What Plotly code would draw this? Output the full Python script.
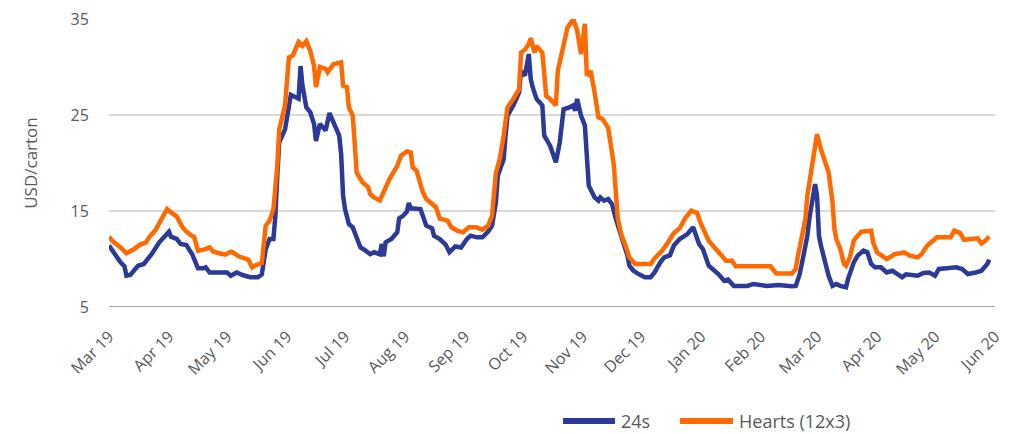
import plotly.graph_objects as go

# 24s carton prices (USD/carton)
dates_24s = [
    "2019-03-01", "2019-03-04", "2019-03-07", "2019-03-09", "2019-03-10", "2019-03-12",
    "2019-03-16", "2019-03-19", "2019-03-23", "2019-03-27", "2019-04-01", "2019-04-02",
    "2019-04-05", "2019-04-07", "2019-04-10", "2019-04-13", "2019-04-16", "2019-04-19",
    "2019-04-20", "2019-04-22", "2019-04-26", "2019-05-01", "2019-05-03", "2019-05-06",
    "2019-05-09", "2019-05-13", "2019-05-17", "2019-05-19", "2019-05-21", "2019-05-23",
    "2019-05-25", "2019-05-26", "2019-05-27", "2019-05-28", "2019-05-31", "2019-06-02",
    "2019-06-03", "2019-06-07", "2019-06-08", "2019-06-09", "2019-06-11", "2019-06-13",
    "2019-06-15", "2019-06-16", "2019-06-18", "2019-06-21", "2019-06-23", "2019-06-26",
    "2019-06-28", "2019-06-29", "2019-06-30", "2019-07-01", "2019-07-03", "2019-07-05",
    "2019-07-07", "2019-07-09", "2019-07-11", "2019-07-14", "2019-07-16", "2019-07-19",
    "2019-07-20", "2019-07-21", "2019-07-22", "2019-07-25", "2019-07-28", "2019-07-29",
    "2019-07-31", "2019-08-02", "2019-08-03", "2019-08-04", "2019-08-09", "2019-08-10",
    "2019-08-12", "2019-08-15", "2019-08-16", "2019-08-19", "2019-08-22", "2019-08-24",
    "2019-08-27", "2019-08-30", "2019-09-02", "2019-09-04", "2019-09-07", "2019-09-10",
    "2019-09-13", "2019-09-15", "2019-09-17", "2019-09-18", "2019-09-21", "2019-09-22",
    "2019-09-23", "2019-09-26", "2019-09-29", "2019-09-30", "2019-10-02", "2019-10-04",
    "2019-10-05", "2019-10-06", "2019-10-08", "2019-10-11", "2019-10-12", "2019-10-15",
    "2019-10-18", "2019-10-20", "2019-10-22", "2019-10-25", "2019-10-27", "2019-10-28",
    "2019-10-29", "2019-10-31", "2019-11-02", "2019-11-03", "2019-11-04", "2019-11-07",
    "2019-11-09", "2019-11-10", "2019-11-12", "2019-11-14", "2019-11-16", "2019-11-18",
    "2019-11-21", "2019-11-24", "2019-11-25", "2019-11-27", "2019-11-30", "2019-12-03",
    "2019-12-06", "2019-12-08", "2019-12-11", "2019-12-13", "2019-12-16", "2019-12-18",
    "2019-12-21", "2019-12-25", "2019-12-28", "2019-12-29", "2019-12-31", "2020-01-02",
    "2020-01-05", "2020-01-07", "2020-01-10", "2020-01-13", "2020-01-15", "2020-01-18",
    "2020-01-25", "2020-01-28", "2020-02-04", "2020-02-10", "2020-02-13", "2020-02-17",
    "2020-02-19", "2020-02-21", "2020-02-23", "2020-02-25", "2020-02-26", "2020-02-28",
    "2020-02-29", "2020-03-01", "2020-03-02", "2020-03-03", "2020-03-05", "2020-03-07",
    "2020-03-09", "2020-03-11", "2020-03-13", "2020-03-16", "2020-03-17", "2020-03-20",
    "2020-03-22", "2020-03-25", "2020-03-27", "2020-03-29", "2020-03-31", "2020-04-03",
    "2020-04-06", "2020-04-09", "2020-04-11", "2020-04-14", "2020-04-16", "2020-04-20",
    "2020-04-22", "2020-04-25", "2020-04-28", "2020-05-01", "2020-05-03", "2020-05-07",
    "2020-05-12", "2020-05-15", "2020-05-18", "2020-05-22", "2020-05-25", "2020-05-28",
    "2020-05-29",
]
values_24s = [
    11.4, 10.5, 9.65, 9.24, 8.26, 8.33,
    9.3, 9.48, 10.5, 11.74, 12.85, 12.33,
    12.1, 11.56, 11.46, 10.5, 9.03, 9.03,
    9.13, 8.6, 8.6, 8.6, 8.26, 8.6,
    8.33, 8.1, 8.1, 8.4, 11.0, 12.08,
    12.08, 14.5, 18.7, 22.15, 23.5, 26.0,
    27.1, 26.7, 30.1, 28.05, 25.8, 25.3,
    24.06, 22.3, 24.06, 23.4, 25.2, 23.8,
    22.85, 20.94, 16.6, 15.2, 13.65, 13.3,
    12.08, 11.2, 10.97, 10.5, 10.7, 10.5,
    11.56, 10.28, 11.74, 12.08, 12.78, 14.24,
    14.5, 14.93, 15.83, 15.28, 15.2, 14.7,
    13.47, 13.2, 12.43, 12.08, 11.5, 10.7,
    11.3, 11.2, 12.08, 12.43, 12.26, 12.26,
    12.85, 13.47, 15.9, 18.7, 20.4, 22.85,
    24.93, 26.0, 27.36, 29.6, 29.1, 31.35,
    28.75, 27.9, 26.67, 26.0, 22.85, 21.8,
    20.07, 22.15, 25.6, 25.8, 26.0, 25.45,
    26.67, 24.93, 23.9, 20.76, 17.64, 16.42,
    16.07, 16.42, 16.07, 16.25, 15.73, 14.17,
    12.43, 10.35, 9.3, 8.8, 8.4, 8.1,
    8.1, 8.6, 9.65, 10.17, 10.4, 11.4,
    12.08, 12.6, 13.3, 12.78, 11.56, 11.04,
    9.3, 8.96, 8.44, 7.74, 7.85, 7.2,
    7.2, 7.4, 7.2, 7.3, 7.2, 7.15,
    7.2, 8.4, 10.35, 12.43, 14.17, 16.6,
    17.8, 16.6, 12.43, 11.4, 9.65, 8.26,
    7.2, 7.4, 7.2, 7.05, 7.9, 9.65,
    10.35, 10.87, 10.7, 9.48, 9.13, 9.13,
    8.6, 8.77, 8.5, 8.1, 8.4, 8.3,
    8.26, 8.54, 8.6, 8.26, 8.96, 9.03,
    9.13, 8.96, 8.44, 8.6, 8.77, 9.48,
    9.93,
]

# Hearts (12x3) carton prices (USD/carton)
dates_hearts = [
    "2019-03-01", "2019-03-03", "2019-03-07", "2019-03-10", "2019-03-14", "2019-03-17",
    "2019-03-20", "2019-03-22", "2019-03-25", "2019-03-27", "2019-03-30", "2019-03-31",
    "2019-04-02", "2019-04-05", "2019-04-08", "2019-04-10", "2019-04-13", "2019-04-14",
    "2019-04-16", "2019-04-19", "2019-04-22", "2019-04-24", "2019-04-27", "2019-04-30",
    "2019-05-03", "2019-05-04", "2019-05-07", "2019-05-09", "2019-05-12", "2019-05-14",
    "2019-05-16", "2019-05-19", "2019-05-21", "2019-05-23", "2019-05-25", "2019-05-27",
    "2019-05-28", "2019-05-31", "2019-06-01", "2019-06-02", "2019-06-04", "2019-06-06",
    "2019-06-07", "2019-06-09", "2019-06-11", "2019-06-13", "2019-06-15", "2019-06-16",
    "2019-06-18", "2019-06-21", "2019-06-22", "2019-06-25", "2019-06-29", "2019-06-30",
    "2019-07-02", "2019-07-03", "2019-07-05", "2019-07-06", "2019-07-07", "2019-07-10",
    "2019-07-13", "2019-07-14", "2019-07-16", "2019-07-19", "2019-07-21", "2019-07-24",
    "2019-07-28", "2019-07-30", "2019-08-02", "2019-08-04", "2019-08-05", "2019-08-07",
    "2019-08-09", "2019-08-10", "2019-08-12", "2019-08-14", "2019-08-17", "2019-08-19",
    "2019-08-23", "2019-08-25", "2019-08-28", "2019-08-31", "2019-09-03", "2019-09-07",
    "2019-09-10", "2019-09-13", "2019-09-15", "2019-09-17", "2019-09-19", "2019-09-21",
    "2019-09-23", "2019-09-26", "2019-09-29", "2019-09-30", "2019-10-02", "2019-10-04",
    "2019-10-05", "2019-10-07", "2019-10-08", "2019-10-11", "2019-10-13", "2019-10-15",
    "2019-10-18", "2019-10-19", "2019-10-20", "2019-10-22", "2019-10-24", "2019-10-27",
    "2019-10-29", "2019-10-31", "2019-11-02", "2019-11-03", "2019-11-05", "2019-11-07",
    "2019-11-09", "2019-11-11", "2019-11-14", "2019-11-16", "2019-11-17", "2019-11-19",
    "2019-11-21", "2019-11-23", "2019-11-25", "2019-11-28", "2019-12-06", "2019-12-08",
    "2019-12-12", "2019-12-15", "2019-12-18", "2019-12-21", "2019-12-24", "2019-12-27",
    "2019-12-30", "2020-01-01", "2020-01-05", "2020-01-08", "2020-01-12", "2020-01-14",
    "2020-01-17", "2020-01-19", "2020-01-25", "2020-02-01", "2020-02-06", "2020-02-07",
    "2020-02-09", "2020-02-17", "2020-02-19", "2020-02-20", "2020-02-22", "2020-02-24",
    "2020-02-25", "2020-02-27", "2020-02-29", "2020-03-01", "2020-03-03", "2020-03-05",
    "2020-03-07", "2020-03-09", "2020-03-10", "2020-03-11", "2020-03-13", "2020-03-15",
    "2020-03-16", "2020-03-18", "2020-03-20", "2020-03-22", "2020-03-24", "2020-03-29",
    "2020-03-30", "2020-04-01", "2020-04-03", "2020-04-06", "2020-04-09", "2020-04-10",
    "2020-04-13", "2020-04-15", "2020-04-18", "2020-04-22", "2020-04-24", "2020-04-27",
    "2020-04-29", "2020-05-02", "2020-05-09", "2020-05-11", "2020-05-14", "2020-05-16",
    "2020-05-23", "2020-05-25", "2020-05-27", "2020-05-29",
]
values_hearts = [
    12.33, 11.84, 11.2, 10.6, 11.04, 11.5,
    11.7, 12.33, 13.0, 13.8, 14.8, 15.2,
    14.86, 14.44, 13.3, 12.85, 12.4, 12.3,
    10.87, 10.97, 11.2, 10.76, 10.6, 10.45,
    10.76, 10.7, 10.28, 10.17, 9.93, 9.13,
    9.37, 9.58, 13.47, 14.0, 15.2, 19.7,
    23.5, 26.0, 28.75, 31.0, 31.18, 32.05,
    32.6, 32.2, 32.7, 31.7, 30.1, 27.9,
    30.0, 29.8, 29.45, 30.3, 30.5, 28.05,
    27.9, 25.8, 24.93, 22.15, 19.0, 18.0,
    17.47, 16.77, 16.42, 16.1, 17.1, 18.33,
    19.7, 20.76, 21.2, 21.1, 19.55, 19.2,
    17.8, 17.1, 16.25, 15.9, 15.4, 14.2,
    14.0, 13.3, 12.95, 12.78, 13.3, 13.3,
    13.05, 13.47, 14.5, 19.0, 20.4, 22.85,
    25.8, 26.67, 27.7, 31.5, 31.8, 32.4,
    33.0, 31.5, 32.2, 31.5, 27.0, 26.67,
    26.0, 29.6, 30.5, 32.4, 34.1, 35.0,
    33.8, 31.35, 34.5, 29.1, 29.6, 27.36,
    24.76, 24.6, 23.7, 21.1, 19.7, 14.2,
    12.43, 11.4, 10.17, 9.48, 9.48, 10.07,
    10.87, 11.74, 12.7, 13.2, 14.3, 15.03,
    14.8, 13.65, 11.9, 11.2, 10.35, 9.83,
    9.83, 9.24, 9.24, 9.2, 9.24, 8.96,
    8.5, 8.5, 8.96, 10.17, 12.08, 14.17,
    16.6, 19.0, 21.1, 23.0, 21.45, 20.07,
    19.0, 15.9, 13.1, 12.08, 11.04, 9.48,
    9.3, 10.17, 11.9, 12.43, 12.85, 12.95,
    11.74, 10.7, 10.42, 10.0, 10.35, 10.5,
    10.6, 10.7, 10.35, 10.17, 10.5, 11.4,
    11.74, 12.26, 12.26, 12.95, 12.7, 12.0,
    12.15, 11.63, 11.9, 12.35,
]

# Monthly ticks along the date axis
tick_dates = [
    "2019-03-01", "2019-04-01", "2019-05-01", "2019-06-01", "2019-07-01", "2019-08-01",
    "2019-09-01", "2019-10-01", "2019-11-01", "2019-12-01", "2020-01-01", "2020-02-01",
    "2020-03-01", "2020-04-01", "2020-05-01", "2020-06-01",
]
tick_labels = [
    "Mar 19", "Apr 19", "May 19", "Jun 19", "Jul 19", "Aug 19", "Sep 19", "Oct 19",
    "Nov 19", "Dec 19", "Jan 20", "Feb 20", "Mar 20", "Apr 20", "May 20", "Jun 20",
]

series_names = ["24s", "Hearts (12x3)"]

BLUE = "#2A3A96"
ORANGE = "#FF6A00"
TEXT = "#595959"
FONT = "Open Sans"

fig = go.Figure()
fig.add_trace(go.Scatter(
    x=dates_24s, y=values_24s, name=series_names[0], mode="lines",
    line=dict(color=BLUE, width=4.5), showlegend=False,
))
fig.add_trace(go.Scatter(
    x=dates_hearts, y=values_hearts, name=series_names[1], mode="lines",
    line=dict(color=ORANGE, width=4.5), showlegend=False,
))

fig.update_layout(
    width=1015, height=434,
    margin=dict(l=109, r=20, t=19, b=127, autoexpand=False),
    paper_bgcolor="white", plot_bgcolor="white",
    font=dict(family=FONT, color=TEXT, size=15),
)
fig.update_xaxes(
    type="date", range=["2019-03-01", "2020-06-01"], automargin=False,
    tickvals=tick_dates, ticktext=tick_labels, tickangle=-45,
    tickfont=dict(size=16, color=TEXT), showgrid=False, zeroline=False,
    showline=False, ticks="outside", ticklen=13, tickcolor="rgba(0,0,0,0)",
)
fig.update_yaxes(
    range=[5, 35], tickvals=[5, 15, 25, 35], showgrid=True, automargin=False,
    gridcolor="#D9D9D9", gridwidth=1.5, zeroline=False,
    tickfont=dict(size=16, color=TEXT),
    ticks="outside", ticklen=16, tickcolor="rgba(0,0,0,0)",
    title=dict(text="USD/carton", font=dict(size=17, color=TEXT), standoff=28),
)
# Baseline along the bottom of the plotting area
fig.add_shape(
    type="line", xref="paper", yref="y", x0=0, x1=1, y0=5, y1=5,
    line=dict(color="#8C8C8C", width=1.5), layer="below",
)

# Legend drawn below the axis: a thick line sample followed by the series name
legend_y = -0.396
legend_items = [
    (series_names[0], BLUE, 0.5124, 0.5711),
    (series_names[1], ORANGE, 0.6445, 0.7043),
]
for label, color, x0, x1 in legend_items:
    fig.add_shape(
        type="line", xref="paper", yref="paper", x0=x0, x1=x1,
        y0=legend_y, y1=legend_y, line=dict(color=color, width=6),
    )
    fig.add_annotation(
        text=label, xref="paper", yref="paper", x=x1 + 0.004, y=legend_y,
        xanchor="left", yanchor="middle", showarrow=False,
        font=dict(size=18, color=TEXT, family=FONT),
    )

fig.write_html("out.html")
